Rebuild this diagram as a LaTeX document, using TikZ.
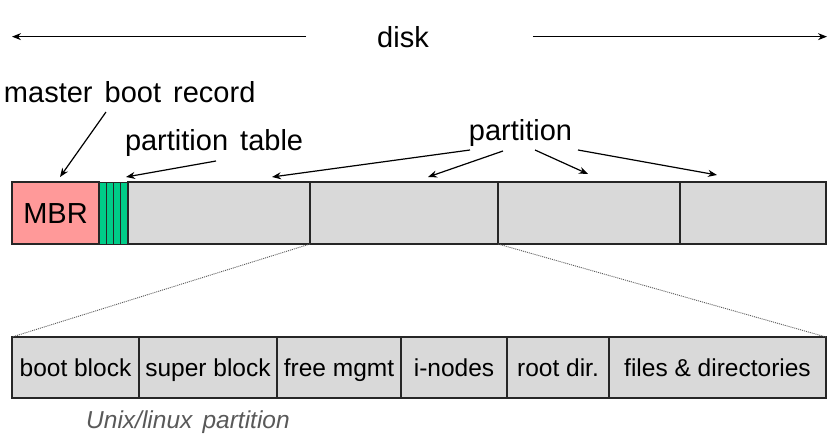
\documentclass[tikz,border=0pt]{standalone}
\usepackage{fontspec}
\setmainfont{Liberation Sans}
\newfontfamily\lblfont{Liberation Sans}[WordSpace=1.5]
\usetikzlibrary{positioning, calc, arrows.meta}
\definecolor{mbrred}{HTML}{FF9999}
\definecolor{tblgreen}{HTML}{00CC88}
\definecolor{partgray}{HTML}{D9D9D9}
\definecolor{capgray}{HTML}{595959}
\tikzset{
x=1pt, y=-1pt, % pixel-like units, y pointing down
>={Stealth[length=9pt, width=7pt]}, % small filled arrow heads
every node/.style={outer sep=0pt}, % neighbouring boxes share their borders
box/.style={draw=black!85, line width=1.3pt, minimum height=62pt, inner sep=0pt}, % one slice of a bar
mbrbox/.style={box, fill=mbrred, minimum width=87pt, text height=21pt, text depth=0pt, font=\fontsize{29}{34}\selectfont},
tblbox/.style={box, fill=tblgreen, minimum width=7.25pt, line width=1pt}, % one entry of the partition table
partbox/.style={box, fill=partgray},
blk/.style={box, fill=partgray, minimum height=61pt, text height=17.5pt, text depth=0pt, font=\fontsize{24.5}{29}\selectfont}, % one part of the partition
lbl/.style={inner sep=0pt, font=\lblfont\fontsize{29}{34}\selectfont},
caption/.style={inner sep=0pt, text=capgray, font=\lblfont\itshape\fontsize{24.5}{29}\selectfont},
pointer/.style={->, line width=1.2pt},
zoomline/.style={draw=black!65, line width=0.9pt, dash pattern=on 1pt off 1pt}, % shows which partition is blown up
}

\begin{document}
\begin{tikzpicture}
\useasboundingbox (0,0) rectangle (830,439);
% the disk
\node[mbrbox, anchor=north west] (mbr) at (12,182) {MBR};
\node[tblbox, right=0pt of mbr] (tbl_1) {};
\node[tblbox, right=0pt of tbl_1] (tbl_2) {};
\node[tblbox, right=0pt of tbl_2] (tbl_3) {};
\node[tblbox, right=0pt of tbl_3] (tbl_4) {};
\node[partbox, minimum width=182pt, right=0pt of tbl_4] (part_1) {};
\node[partbox, minimum width=188pt, right=0pt of part_1] (part_2) {};
\node[partbox, minimum width=182pt, right=0pt of part_2] (part_3) {};
\node[partbox, minimum width=146pt, right=0pt of part_3] (part_4) {};

% the unix partition
\node[blk, minimum width=127pt, anchor=north west] (blk_boot) at (12,337) {boot block};
\node[blk, minimum width=138pt, right=0pt of blk_boot] (blk_super) {super block};
\node[blk, minimum width=124pt, right=0pt of blk_super] (blk_free) {free mgmt};
\node[blk, minimum width=106pt, right=0pt of blk_free] (blk_inodes) {i-nodes};
\node[blk, minimum width=102pt, right=0pt of blk_inodes] (blk_root) {root dir.};
\node[blk, minimum width=217pt, right=0pt of blk_root] (blk_files) {files \& directories};
\node[caption, anchor=base] (unix) at (188,428) {Unix/linux partition};

\draw[zoomline] (part_2.south west) -- (blk_boot.north west);
\draw[zoomline] (part_2.south east) -- (blk_files.north east);

% labels
\node[lbl, anchor=base] (disk) at (403,47) {disk};
\node[lbl, anchor=base west] (mbr_label) at (4,102) {master boot record};
\node[lbl, anchor=base west] (ptab_label) at (125,150) {partition table};
\node[lbl, anchor=base] (part_label) at (520.5,140) {partition};
\coordinate (disk_l) at (12,0);
\coordinate (disk_r) at (827,0);

\draw[pointer, line width=1pt] ([xshift=-71pt]disk.west) -- (disk.west -| disk_l);
\draw[pointer, line width=1pt] ([xshift=104pt]disk.east) -- (disk.east -| disk_r);
\draw[pointer] ($(mbr_label.base west)+(102,10)$) -- ($(mbr.north)+(4.5,-5)$);
\draw[pointer] ($(ptab_label.base west)+(91,11)$) -- ($(tbl_4.north east)+(-2,-5)$);
%
\draw[pointer] ($(part_label.base)+(-50.5,10)$) -- ($(part_1.north)+(53,-5)$);
\draw[pointer] ($(part_label.base)+(-17.5,11)$) -- ($(part_2.north)+(24,-5)$);
\draw[pointer] ($(part_label.base)+(14.5,10)$) -- ($(part_3.north)+(-1,-8)$);
\draw[pointer] ($(part_label.base)+(57.5,10)$) -- ($(part_4.north)+(-36,-7)$);
\end{tikzpicture}
\end{document}
